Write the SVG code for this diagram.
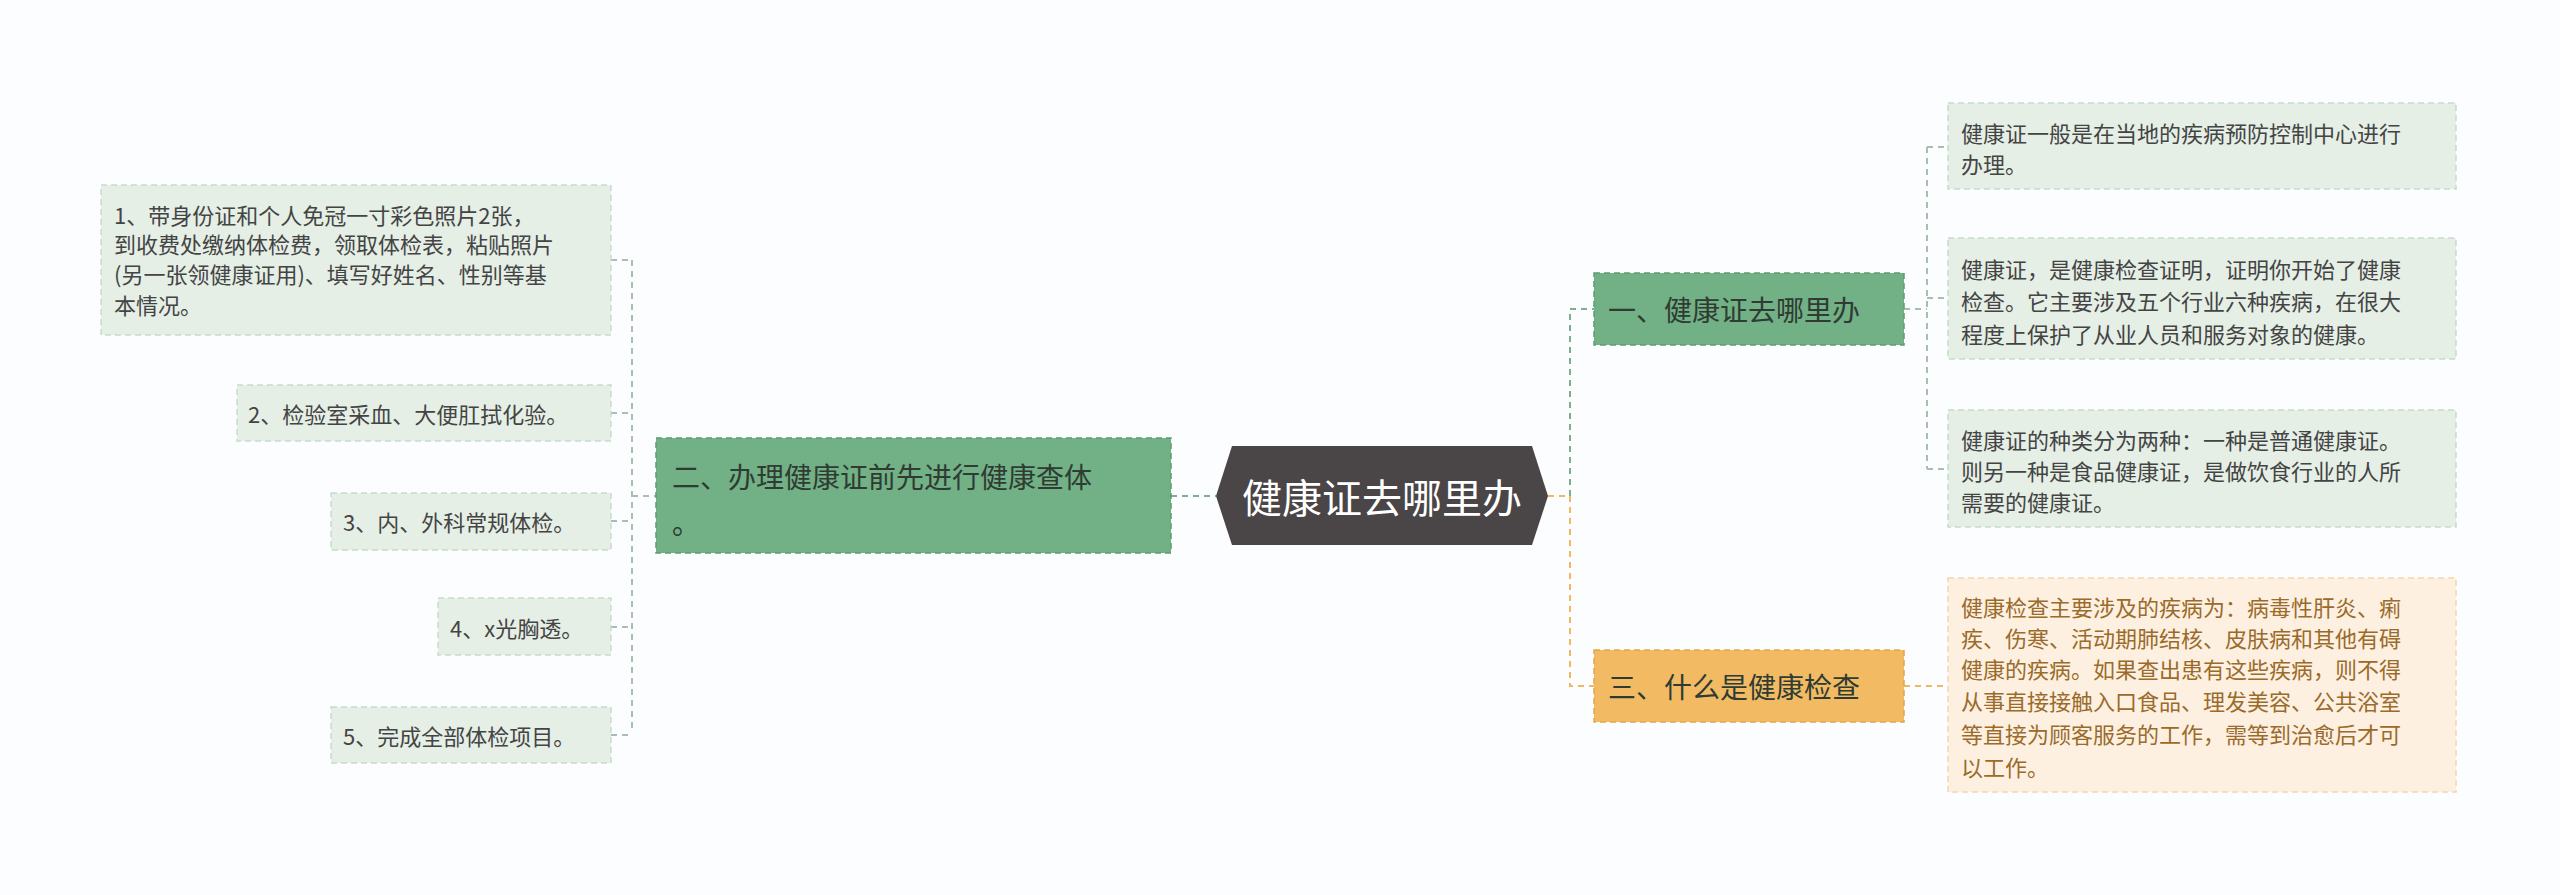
<svg xmlns="http://www.w3.org/2000/svg" width="2560" height="895" viewBox="0 0 2560 895">
<style>
text{font-family:"Noto Sans CJK SC","Noto Sans",sans-serif;dominant-baseline:central}
.leaf{fill:#e5efe6;stroke:#c8dccb;stroke-width:1.5;stroke-dasharray:6 4}
.lt{font-size:22px;fill:#444}
.nd{fill:#72b085;stroke:#5f9c72;stroke-width:1.5;stroke-dasharray:6 4}
.nt{font-size:28px;fill:#2f3b33}
.c{fill:none;stroke-width:2;stroke-dasharray:6 5}
.g{stroke:#7fae8e}.o{stroke:#f0b95e}.gl{stroke:#a9bfae}
</style>
<rect width="2560" height="895" fill="#fbfdfe"/>
<g id="connectors">
<path class="c g" d="M1171 496H1216"/>
<path class="c gl" d="M632 260V733M611 260H632M611 413H632M611 521H632M611 627H632M611 735H632M632 496H656"/>
<path class="c g" d="M1548 496H1570V309H1594"/>
<path class="c o" d="M1548 496H1570V686H1594"/>
<path class="c gl" d="M1904 309H1927M1927 147V469M1927 147H1948M1927 298H1948M1927 469H1948"/>
<path class="c o" d="M1904 686H1948"/>
</g>
<g id="center"><polygon points="1232,446 1532,446 1548,496 1532,545 1232,545 1216,496" fill="#4a4546"/><text x="1382" y="496" font-size="40" fill="#fff" text-anchor="middle">健康证去哪里办</text></g>
<g id="n2"><rect class="nd" x="656" y="438" width="515" height="115"/><text class="nt" x="672" y="476">二、办理健康证前先进行健康查体</text><text class="nt" x="672" y="522">。</text></g>
<g id="n1"><rect class="nd" x="1594" y="273" width="310" height="72"/><text class="nt" x="1608" y="309">一、健康证去哪里办</text></g>
<g id="n3"><rect x="1594" y="650" width="310" height="72" fill="#f2bb63" stroke="#e0a74c" stroke-width="1.5" stroke-dasharray="6 4"/><text class="nt" x="1608" y="686">三、什么是健康检查</text></g>
<g id="l1"><rect class="leaf" x="101" y="185" width="510" height="150"/><text class="lt" x="114" y="214">1、带身份证和个人免冠一寸彩色照片2张，</text><text class="lt" x="114" y="243">到收费处缴纳体检费，领取体检表，粘贴照片</text><text class="lt" x="114" y="273">(另一张领健康证用)、填写好姓名、性别等基</text><text class="lt" x="114" y="304">本情况。</text></g>
<g id="l2"><rect class="leaf" x="237" y="385" width="374" height="56"/><text class="lt" x="248" y="413">2、检验室采血、大便肛拭化验。</text></g>
<g id="l3"><rect class="leaf" x="331" y="493" width="280" height="57"/><text class="lt" x="343" y="521">3、内、外科常规体检。</text></g>
<g id="l4"><rect class="leaf" x="438" y="598" width="173" height="57"/><text class="lt" x="450" y="627">4、x光胸透。</text></g>
<g id="l5"><rect class="leaf" x="331" y="707" width="280" height="56"/><text class="lt" x="343" y="735">5、完成全部体检项目。</text></g>
<g id="r1"><rect class="leaf" x="1948" y="103" width="508" height="86"/><text class="lt" x="1961" y="132">健康证一般是在当地的疾病预防控制中心进行</text><text class="lt" x="1961" y="163">办理。</text></g>
<g id="r2"><rect class="leaf" x="1948" y="238" width="508" height="121"/><text class="lt" x="1961" y="268">健康证，是健康检查证明，证明你开始了健康</text><text class="lt" x="1961" y="300">检查。它主要涉及五个行业六种疾病，在很大</text><text class="lt" x="1961" y="333">程度上保护了从业人员和服务对象的健康。</text></g>
<g id="r3"><rect class="leaf" x="1948" y="410" width="508" height="117"/><text class="lt" x="1961" y="439">健康证的种类分为两种：一种是普通健康证。</text><text class="lt" x="1961" y="470">则另一种是食品健康证，是做饮食行业的人所</text><text class="lt" x="1961" y="501">需要的健康证。</text></g>
<g id="r4"><rect x="1948" y="578" width="508" height="214" fill="#fdf0e1" stroke="#f3d7ad" stroke-width="1.5" stroke-dasharray="6 4"/>
<g fill="#9a6b2a" font-size="22"><text x="1961" y="606">健康检查主要涉及的疾病为：病毒性肝炎、痢</text><text x="1961" y="637">疾、伤寒、活动期肺结核、皮肤病和其他有碍</text><text x="1961" y="668">健康的疾病。如果查出患有这些疾病，则不得</text><text x="1961" y="700">从事直接接触入口食品、理发美容、公共浴室</text><text x="1961" y="733">等直接为顾客服务的工作，需等到治愈后才可</text><text x="1961" y="766">以工作。</text></g></g>
</svg>
